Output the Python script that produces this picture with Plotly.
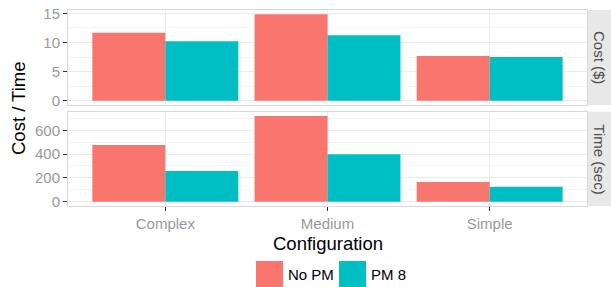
import plotly.graph_objects as go
from plotly.subplots import make_subplots

configs = ["Complex", "Medium", "Simple"]
series = ["No PM", "PM 8"]
colors = ["#F8766D", "#00BFC4"]
cost_nopm = [11.7, 14.85, 7.7]
cost_pm8 = [10.2, 11.25, 7.5]
time_nopm = [477, 720, 165]
time_pm8 = [257, 399, 126]
facets = ["Cost ($)", "Time (sec)"]

W, H = 611, 287
L, R, T, B = 68, 24, 10, 81
PW, PH = W - L - R, H - T - B

def px(x):
    return (x - L) / PW

def py(y):
    return (H - B - y) / PH

top_dom = [py(105), 1.0]
bot_dom = [0.0, py(111.7)]

fig = make_subplots(rows=2, cols=1, shared_xaxes=True)

data = [(cost_nopm, cost_pm8), (time_nopm, time_pm8)]
for r, (a, b) in enumerate(data, start=1):
    for name, vals, col in zip(series, (a, b), colors):
        fig.add_trace(go.Bar(x=configs, y=vals, name=name, marker_color=col,
                             marker_line_width=0, showlegend=False), row=r, col=1)

font = "Liberation Sans, Arial, sans-serif"
axcommon = dict(showline=True, mirror=True, linecolor="#D9D9D9", linewidth=1,
                gridcolor="#EBEBEB", gridwidth=1, zeroline=False, automargin=False,
                ticks="outside", ticklen=4, tickwidth=1, tickcolor="#333333",
                tickfont=dict(size=15, color="#999999", family=font))

fig.update_xaxes(**axcommon, range=[-0.6, 2.6])
fig.update_xaxes(showticklabels=False, ticks="", row=1, col=1)
fig.update_yaxes(**axcommon)
fig.update_yaxes(range=[-0.74, 15.59], dtick=5, tick0=0,
                 minor=dict(dtick=2.5, showgrid=True, gridcolor="#F5F5F5", ticks=""),
                 domain=top_dom, row=1, col=1)
fig.update_yaxes(range=[-36, 756], dtick=200, tick0=0,
                 minor=dict(dtick=100, showgrid=True, gridcolor="#F5F5F5", ticks=""),
                 domain=bot_dom, row=2, col=1)
fig.update_layout(xaxis=dict(domain=[0, 1]), xaxis2=dict(domain=[0, 1]))

shapes = []
annotations = []
# facet strips
for dom, label in zip([top_dom, bot_dom], facets):
    shapes.append(dict(type="rect", xref="paper", yref="paper", x0=px(588), x1=px(611),
                       y0=dom[0], y1=dom[1], fillcolor="#E8E8E8", line_width=0, layer="below"))
    annotations.append(dict(xref="paper", yref="paper", x=px(599.5), y=(dom[0] + dom[1]) / 2,
                            xanchor="center", yanchor="middle",
                            text=label, textangle=90, showarrow=False,
                            font=dict(size=15, color="#4D4D4D", family=font)))
# axis titles
annotations.append(dict(xref="paper", yref="paper", x=px(18), y=py(108), text="Cost / Time",
                        xanchor="center", yanchor="middle",
                        textangle=-90, showarrow=False, font=dict(size=18.5, color="black", family=font)))
annotations.append(dict(xref="paper", yref="paper", x=0.5, y=py(243), text="Configuration",
                        xanchor="center", yanchor="middle",
                        showarrow=False, font=dict(size=18.5, color="black", family=font)))
# legend
key_x = [256, 339]
for kx, name, col in zip(key_x, series, colors):
    shapes.append(dict(type="rect", xref="paper", yref="paper", x0=px(kx), x1=px(kx + 27),
                       y0=py(287), y1=py(261), fillcolor=col, line_width=0))
    annotations.append(dict(xref="paper", yref="paper", x=px(kx + 30), y=py(274.5), text=name,
                            xanchor="left", yanchor="middle", showarrow=False,
                            font=dict(size=15, color="black", family=font)))

fig.update_layout(width=W, height=H, margin=dict(l=L, r=R, t=T, b=B, autoexpand=False),
                  paper_bgcolor="white", plot_bgcolor="white",
                  barmode="group", bargap=0.1, bargroupgap=0,
                  showlegend=False, shapes=shapes, annotations=annotations,
                  font=dict(family=font))

fig.write_html("out.html", config={"displayModeBar": False},
               post_script="document.body.style.margin='0px';document.body.style.overflow='hidden';")
